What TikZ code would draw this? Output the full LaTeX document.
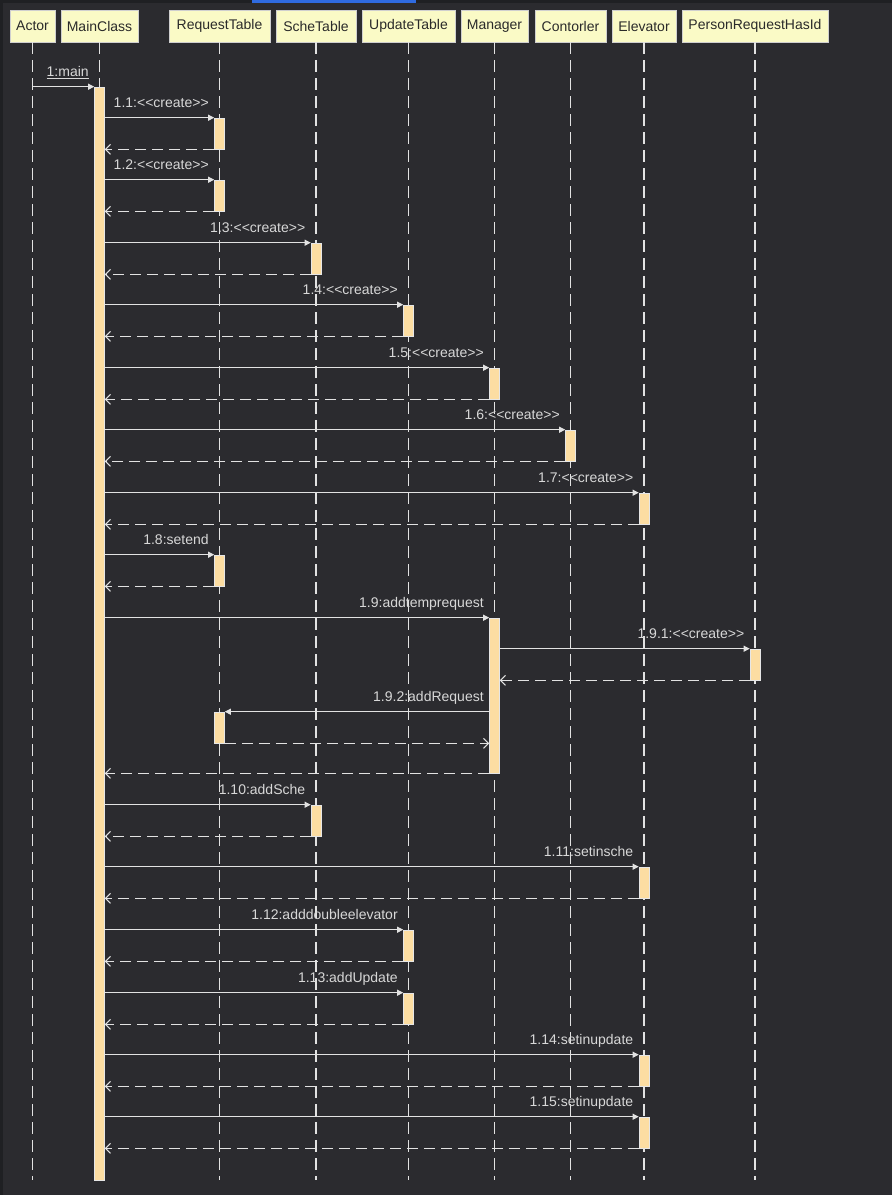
\documentclass[tikz,border=0pt]{standalone}
\usepackage{fontspec}
\setmainfont{Liberation Sans}
\usetikzlibrary{arrows.meta}
\definecolor{bg}{HTML}{2B2B2F}
\definecolor{edgecol}{HTML}{1F2023}
\definecolor{tabblue}{HTML}{2F6BE0}
\definecolor{hdrfill}{HTML}{FAFAC6}
\definecolor{hdrline}{HTML}{CFCFCF}
\definecolor{hdrtext}{HTML}{2A2A2A}
\definecolor{linecol}{HTML}{E2E2E2}
\definecolor{lblcol}{HTML}{D8D8D8}
\definecolor{barfill}{HTML}{FCDDA2}
\definecolor{barline}{HTML}{E6E6E6}
\tikzset{
  hdr/.style={draw=hdrline, fill=hdrfill, text=hdrtext, minimum height=32pt, inner sep=0pt, line width=0.8pt, font=\fontsize{14}{16}\selectfont},
  life/.style={draw=linecol, line width=1.1pt, dash pattern=on 12pt off 6pt},
  act/.style={draw=barline, fill=barfill, minimum width=10pt, minimum height=31pt, inner sep=0pt, line width=0.6pt},
  call/.style={draw=linecol, line width=1pt, -{Triangle[length=6pt,width=6pt]}},
  ret/.style={draw=linecol, line width=1pt, dash pattern=on 11pt off 6pt, -{Straight Barb[length=5pt,width=10pt,line width=1pt]}},
  lbl/.style={anchor=base east, xshift=-5pt, yshift=10pt, text=lblcol, inner sep=0pt, font=\fontsize{14}{16}\selectfont}
}
\newcommand\actv[3]{\node[act] (#1) at (#2.south |- 0,#3+15.5) {};}
\begin{document}
\begin{tikzpicture}[x=1pt,y=-1pt]
\fill[bg] (0,0) rectangle (892,1195);
\useasboundingbox (0,0) rectangle (892,1195);
\fill[edgecol] (0,0) rectangle (892,3);
\fill[edgecol] (0,0) rectangle (3,1195);
\fill[tabblue] (252,0) rectangle (416,3);
% headers
\node[hdr, minimum width=45pt]  (actor) at (32.5,26)  {Actor};
\node[hdr, minimum width=77pt]  (main)  at (99.5,26)  {MainClass};
\node[hdr, minimum width=101pt] (rt)    at (219.5,26) {RequestTable};
\node[hdr, minimum width=80pt]  (st)    at (316,26)   {ScheTable};
\node[hdr, minimum width=93pt]  (ut)    at (408.5,26) {UpdateTable};
\node[hdr, minimum width=67pt]  (mg)    at (494.5,26) {Manager};
\node[hdr, minimum width=71pt]  (ct)    at (570.5,26) {Contorler};
\node[hdr, minimum width=64pt]  (el)    at (644,26)   {Elevator};
\node[hdr, minimum width=146pt] (pr)    at (755,26)   {PersonRequestHasId};
\coordinate (bottom) at (0,1180);
% lifelines
\foreach \n in {actor,main,rt,st,ut,mg,ct,el,pr}
  \draw[life] (\n.south) -- (\n.south |- bottom);
% activation bars
\node[act, minimum height=1093pt] (mb) at (main.south |- 0,633.5) {};
\node[act, minimum height=155pt] (mgb) at (mg.south |- 0,695.5) {};
\actv{a1}{rt}{118}
\actv{a2}{rt}{180}
\actv{a3}{st}{243}
\actv{a4}{ut}{305}
\actv{a5}{mg}{368}
\actv{a6}{ct}{430}
\actv{a7}{el}{493}
\actv{a8}{rt}{555}
\actv{a91}{pr}{649}
\actv{a92}{rt}{712}
\actv{a10}{st}{805}
\actv{a11}{el}{867}
\actv{a12}{ut}{930}
\actv{a13}{ut}{993}
\actv{a14}{el}{1055}
\actv{a15}{el}{1117}
% messages
\draw[call] (actor.south |- mb.north) -- (mb.north west) node[lbl] {\underline{1:main}};
\foreach \a/\t in {a1/{1.1:<{}<create>{}>}, a2/{1.2:<{}<create>{}>}, a3/{1.3:<{}<create>{}>},
                   a4/{1.4:<{}<create>{}>}, a5/{1.5:<{}<create>{}>}, a6/{1.6:<{}<create>{}>},
                   a7/{1.7:<{}<create>{}>}, a8/{1.8:setend}, a10/{1.10:addSche},
                   a11/{1.11:setinsche}, a12/{1.12:adddoubleelevator}, a13/{1.13:addUpdate},
                   a14/{1.14:setinupdate}, a15/{1.15:setinupdate}}{
  \draw[call] (mb.east |- \a.north) -- (\a.north west) node[lbl] {\t};
  \draw[ret] (\a.south west) -- (mb.east |- \a.south);
}
\draw[call] (mb.east |- mgb.north) -- (mgb.north west) node[lbl] {1.9:addtemprequest};
\draw[call] (mgb.east |- a91.north) -- (a91.north west) node[lbl] {1.9.1:<{}<create>{}>};
\draw[ret] (a91.south west) -- (mgb.east |- a91.south);
\draw[call] (mgb.west |- a92.north) node[lbl] {1.9.2:addRequest} -- (a92.north east);
\draw[ret] (a92.south east) -- (mgb.west |- a92.south);
\draw[ret] (mgb.south west) -- (mb.east |- mgb.south);
\end{tikzpicture}
\end{document}
